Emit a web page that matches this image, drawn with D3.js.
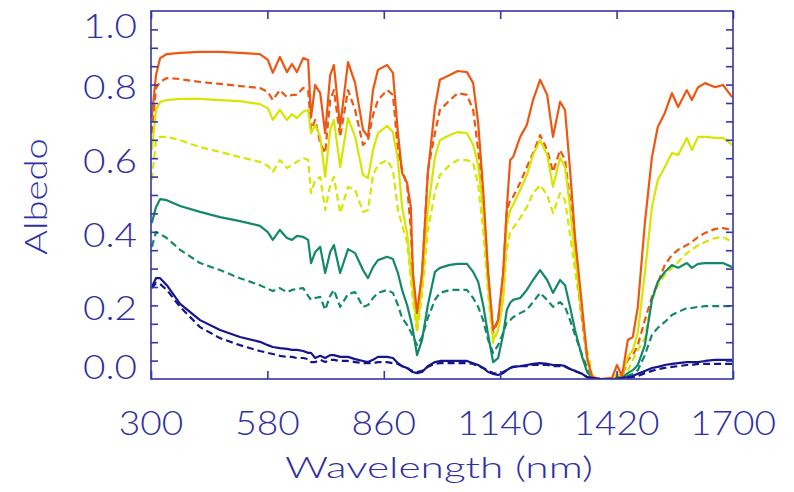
<!DOCTYPE html>
<html>
<head>
<meta charset="utf-8">
<script src="https://cdn.jsdelivr.net/npm/d3@7"></script>
<style>
  html, body { margin: 0; padding: 0; background: #fff; }
  svg { display: block; }
  .lbl { font-family: "Lato", "DejaVu Sans", sans-serif; font-weight: 300; fill: #2f2fa3; }
</style>
</head>
<body>
<div id="chart"></div>
<script>
// wavelength grid (nm)
const wavelengths = [302,312,322,338,370,418,466,514,562,581,593,610,627,639,651,666,678,685,695,707,719,731,740,755,774,791,810,822,834,846,868,882,894,904,916,925,930,940,952,966,983,995,1019,1038,1060,1075,1087,1099,1111,1123,1135,1147,1156,1164,1171,1188,1204,1219,1236,1253,1267,1284,1296,1308,1320,1337,1349,1361,1380,1409,1421,1433,1447,1459,1471,1488,1505,1519,1536,1553,1568,1589,1601,1616,1633,1657,1676,1698];

const orangeSolid = [0.712,0.826,0.872,0.883,0.886,0.889,0.889,0.886,0.883,0.867,0.832,0.875,0.834,0.856,0.834,0.872,0.867,0.712,0.799,0.777,0.668,0.826,0.853,0.685,0.861,0.804,0.677,0.658,0.785,0.840,0.853,0.832,0.668,0.560,0.533,0.467,0.288,0.179,0.288,0.560,0.739,0.813,0.826,0.837,0.834,0.804,0.696,0.514,0.288,0.133,0.160,0.288,0.467,0.595,0.603,0.658,0.690,0.758,0.813,0.772,0.658,0.753,0.731,0.568,0.386,0.196,0.060,0.005,0,0.003,0.038,0.008,0.106,0.114,0.196,0.424,0.603,0.685,0.723,0.777,0.739,0.785,0.758,0.793,0.804,0.793,0.799,0.766];
const orangeDashed = [0.668,0.791,0.807,0.818,0.815,0.807,0.802,0.796,0.791,0.780,0.758,0.785,0.766,0.772,0.772,0.791,0.785,0.677,0.704,0.641,0.614,0.758,0.785,0.658,0.785,0.731,0.636,0.649,0.717,0.758,0.785,0.772,0.622,0.568,0.527,0.405,0.283,0.160,0.283,0.568,0.668,0.731,0.758,0.777,0.772,0.731,0.622,0.486,0.283,0.125,0.160,0.283,0.459,0.486,0.495,0.533,0.576,0.614,0.663,0.622,0.563,0.622,0.595,0.486,0.351,0.160,0.052,0.005,0,0,0.008,0.005,0.052,0.065,0.092,0.160,0.223,0.261,0.310,0.337,0.351,0.364,0.372,0.386,0.397,0.408,0.410,0.405];
const yellowSolid = [0.622,0.731,0.753,0.758,0.761,0.761,0.758,0.755,0.747,0.736,0.704,0.731,0.704,0.720,0.709,0.726,0.731,0.668,0.690,0.658,0.549,0.677,0.704,0.576,0.709,0.658,0.554,0.546,0.622,0.668,0.688,0.671,0.595,0.467,0.397,0.296,0.242,0.141,0.255,0.459,0.603,0.649,0.663,0.671,0.668,0.636,0.582,0.459,0.255,0.106,0.133,0.215,0.418,0.459,0.473,0.514,0.554,0.609,0.649,0.609,0.522,0.601,0.576,0.467,0.332,0.179,0.052,0.005,0,0,0.014,0.008,0.060,0.079,0.125,0.288,0.467,0.541,0.576,0.614,0.609,0.655,0.622,0.658,0.658,0.655,0.655,0.636];
const yellowDashed = [0.541,0.649,0.658,0.658,0.649,0.630,0.617,0.603,0.590,0.579,0.563,0.595,0.573,0.582,0.590,0.601,0.595,0.505,0.541,0.549,0.459,0.527,0.549,0.451,0.522,0.514,0.454,0.459,0.554,0.582,0.595,0.568,0.459,0.418,0.372,0.269,0.215,0.125,0.228,0.405,0.508,0.554,0.582,0.595,0.595,0.587,0.527,0.405,0.228,0.098,0.133,0.215,0.351,0.399,0.410,0.438,0.467,0.505,0.527,0.500,0.451,0.505,0.486,0.391,0.296,0.160,0.079,0.011,0,0,0.003,0.003,0.024,0.052,0.079,0.111,0.215,0.255,0.283,0.302,0.318,0.342,0.351,0.364,0.372,0.383,0.386,0.372];
const tealSolid = [0.424,0.467,0.489,0.486,0.470,0.454,0.440,0.429,0.416,0.399,0.378,0.405,0.383,0.378,0.389,0.386,0.378,0.315,0.345,0.359,0.288,0.345,0.364,0.288,0.353,0.342,0.296,0.274,0.304,0.323,0.332,0.326,0.288,0.242,0.201,0.160,0.133,0.065,0.106,0.201,0.291,0.302,0.310,0.313,0.313,0.291,0.264,0.201,0.120,0.046,0.057,0.120,0.188,0.207,0.215,0.220,0.242,0.269,0.296,0.269,0.234,0.269,0.255,0.196,0.133,0.060,0.019,0.003,0,0,0.003,0.003,0.016,0.024,0.038,0.092,0.215,0.264,0.291,0.310,0.302,0.315,0.302,0.313,0.315,0.315,0.315,0.304];
const tealDashed = [0.359,0.399,0.394,0.383,0.351,0.315,0.296,0.274,0.255,0.245,0.239,0.247,0.236,0.242,0.245,0.247,0.226,0.215,0.220,0.223,0.188,0.226,0.242,0.196,0.231,0.236,0.196,0.201,0.220,0.234,0.242,0.234,0.201,0.166,0.147,0.128,0.117,0.092,0.114,0.166,0.215,0.234,0.242,0.242,0.242,0.220,0.196,0.160,0.106,0.071,0.092,0.125,0.155,0.160,0.168,0.179,0.188,0.209,0.234,0.215,0.196,0.209,0.196,0.160,0.120,0.065,0.030,0.005,0,0,0,0,0.008,0.014,0.024,0.065,0.120,0.139,0.155,0.174,0.182,0.193,0.193,0.196,0.198,0.198,0.198,0.198];
const navySolid = [0.250,0.274,0.274,0.255,0.204,0.160,0.133,0.114,0.101,0.092,0.087,0.084,0.082,0.079,0.079,0.076,0.071,0.071,0.057,0.063,0.057,0.065,0.065,0.060,0.060,0.054,0.049,0.046,0.052,0.060,0.060,0.057,0.043,0.035,0.030,0.022,0.019,0.016,0.019,0.035,0.046,0.049,0.049,0.049,0.049,0.043,0.038,0.030,0.019,0.014,0.011,0.016,0.024,0.030,0.033,0.035,0.038,0.041,0.043,0.041,0.038,0.038,0.035,0.027,0.022,0.014,0.005,0.003,0,0,0,0.003,0.005,0.008,0.014,0.022,0.030,0.033,0.038,0.041,0.043,0.046,0.046,0.046,0.049,0.052,0.052,0.052];
const navyDashed = [0.247,0.261,0.258,0.242,0.196,0.141,0.111,0.092,0.076,0.071,0.068,0.063,0.060,0.060,0.057,0.057,0.054,0.046,0.046,0.052,0.046,0.052,0.052,0.049,0.049,0.046,0.043,0.043,0.043,0.046,0.046,0.043,0.041,0.035,0.030,0.024,0.022,0.019,0.022,0.033,0.041,0.043,0.043,0.043,0.043,0.041,0.035,0.030,0.022,0.016,0.014,0.019,0.024,0.030,0.033,0.035,0.035,0.038,0.038,0.038,0.035,0.035,0.033,0.027,0.022,0.014,0.005,0.003,0,0,0,0,0.003,0.005,0.008,0.016,0.022,0.027,0.030,0.033,0.035,0.038,0.038,0.041,0.041,0.041,0.041,0.041];

const xTicks = [300, 580, 860, 1140, 1420, 1700];
const yTickLabels = [0.0, 0.2, 0.4, 0.6, 0.8, 1.0];

const series = [
    { values: tealDashed,   color: '#13896a', dash: '7,4' },
    { values: yellowDashed, color: '#d6e600', dash: '7,4' },
    { values: orangeDashed, color: '#ee5712', dash: '7,4' },
    { values: navyDashed,   color: '#15158c', dash: '7,4' },
    { values: tealSolid,    color: '#13896a', dash: null },
    { values: yellowSolid,  color: '#d6e600', dash: null },
    { values: orangeSolid,  color: '#ee5712', dash: null },
    { values: navySolid,    color: '#15158c', dash: null }
];

const W = 794, H = 492;
const margin = { top: 11, right: 61, bottom: 113, left: 151 };
const innerW = W - margin.left - margin.right;
const innerH = H - margin.top - margin.bottom;
const axisColor = '#3535a5';

const svg = d3.select('#chart').append('svg')
    .attr('width', W)
    .attr('height', H);

const g = svg.append('g')
    .attr('transform', `translate(${margin.left},${margin.top})`);

const x = d3.scaleLinear().domain([300, 1700]).range([0, innerW]);
const y = d3.scaleLinear().domain([0, 1]).range([innerH, 0]);

svg.append('defs').append('clipPath').attr('id', 'plot-clip')
    .append('rect').attr('x', 0).attr('y', 0).attr('width', innerW).attr('height', innerH);

const line = d3.line()
    .x((d, i) => x(wavelengths[i]))
    .y(d => y(d));

// curves
g.append('g').attr('clip-path', 'url(#plot-clip)')
    .selectAll('path')
    .data(series)
    .join('path')
    .attr('fill', 'none')
    .attr('stroke', d => d.color)
    .attr('stroke-width', 2.2)
    .attr('stroke-linejoin', 'round')
    .attr('stroke-dasharray', d => d.dash)
    .attr('d', d => line(d.values));

// frame
g.append('rect')
    .attr('width', innerW)
    .attr('height', innerH)
    .attr('fill', 'none')
    .attr('stroke', axisColor)
    .attr('stroke-width', 1.6);

// x ticks, inward on bottom and top
const xTick = 8;
g.append('g')
    .attr('transform', `translate(0,${innerH})`)
    .call(d3.axisBottom(x).tickValues(xTicks).tickSize(-xTick).tickFormat(''))
    .call(a => a.select('.domain').remove());
g.append('g')
    .call(d3.axisTop(x).tickValues(xTicks).tickSize(-xTick).tickFormat(''))
    .call(a => a.select('.domain').remove());

// y ticks every 0.05, inward on left and right
const yMinor = d3.range(1, 20).map(i => i * 0.05);
const yTick = 7;
g.append('g')
    .call(d3.axisLeft(y).tickValues(yMinor).tickSize(-yTick).tickFormat(''))
    .call(a => a.select('.domain').remove());
g.append('g')
    .attr('transform', `translate(${innerW},0)`)
    .call(d3.axisRight(y).tickValues(yMinor).tickSize(-yTick).tickFormat(''))
    .call(a => a.select('.domain').remove());

g.selectAll('.tick line').attr('stroke', axisColor).attr('stroke-width', 1.6);

// tick labels (wide, thin lettering like the original plot)
g.append('g').selectAll('text')
    .data(xTicks)
    .join('text')
    .attr('class', 'lbl')
    .attr('x', d => x(d))
    .attr('y', innerH + 56)
    .attr('text-anchor', 'middle')
    .attr('textLength', d => String(d).length * 21.5)
    .attr('lengthAdjust', 'spacingAndGlyphs')
    .style('font-size', '34px')
    .text(d => d);

g.append('g').selectAll('text')
    .data(yTickLabels)
    .join('text')
    .attr('class', 'lbl')
    .attr('x', -14)
    .attr('y', d => Math.max(15, Math.min(innerH - 12, y(d) + 3)))
    .attr('dy', '0.36em')
    .attr('text-anchor', 'end')
    .attr('textLength', 54)
    .attr('lengthAdjust', 'spacingAndGlyphs')
    .style('font-size', '33px')
    .text(d => d.toFixed(1));

// axis titles
svg.append('text')
    .attr('class', 'lbl')
    .attr('x', 285)
    .attr('y', 478)
    .attr('textLength', 308)
    .attr('lengthAdjust', 'spacingAndGlyphs')
    .style('font-size', '29px')
    .text('Wavelength (nm)');

svg.append('text')
    .attr('class', 'lbl')
    .attr('transform', 'translate(47,255) rotate(-90)')
    .attr('textLength', 117)
    .attr('lengthAdjust', 'spacingAndGlyphs')
    .style('font-size', '31px')
    .text('Albedo');
</script>
</body>
</html>
